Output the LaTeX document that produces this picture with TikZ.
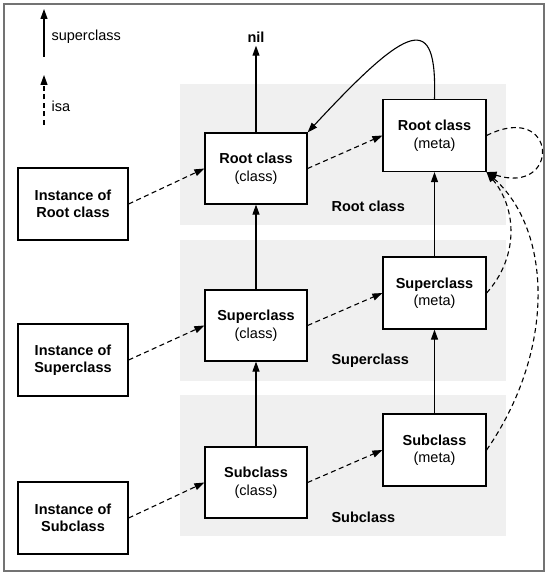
\documentclass[tikz,border=0pt]{standalone}
\usepackage{fontspec}
\setmainfont{Liberation Sans}
\usetikzlibrary{arrows.meta}
\newcommand\figfont{\fontsize{14.5}{17.5}\selectfont}

\begin{document}
\begin{tikzpicture}[x=1pt,y=-1pt,
  box/.style={draw,fill=white,line width=1.2pt,inner sep=0pt,align=center,font=\figfont},
  instbox/.style={box,font=\figfont\bfseries,minimum width=110pt,minimum height=72pt},
  classbox/.style={box,minimum width=102pt,minimum height=71pt},
  metabox/.style={box,minimum width=103pt,minimum height=72pt},
  band/.style={fill=black!6},
  bandlabel/.style={anchor=west,font=\figfont\bfseries},
  legendlabel/.style={anchor=west,font=\figfont},
  superarrow/.style={line width=1.1pt,-{Triangle[length=10pt,width=7pt]}},
  isaarrow/.style={superarrow,dash pattern=on 5pt off 3.5pt}]
 \useasboundingbox (0,0) rectangle (550,577);
 \draw[black!55,line width=1.5pt] (4,4) rectangle (544,571);
 % bands
 \fill[band] (180,84) rectangle (506,225);
 \fill[band] (180,240) rectangle (506,381);
 \fill[band] (180,395) rectangle (506,536);
 \node[bandlabel] (rootlbl) at (328,206) {Root class};
 \node[bandlabel] (superlbl) at (328,361) {Superclass};
 \node[bandlabel] (sublbl) at (328,517) {Subclass};
 % legend
 \coordinate (legsupfoot) at (44,57);
 \coordinate (legsuptip) at (44,9);
 \coordinate (legisafoot) at (44,125);
 \coordinate (legisatip) at (44,75);
 \draw[superarrow] (legsupfoot) -- (legsuptip);
 \draw[isaarrow] (legisafoot) -- (legisatip);
 \node[legendlabel] (legsup) at (48,37) {superclass};
 \node[legendlabel] (legisa) at (48,106) {isa};
 % boxes
 \node[instbox] (rootinst) at (73,204) {Instance of\\Root class};
 \node[instbox] (superinst) at (73,360) {Instance of\\Superclass};
 \node[instbox] (subinst) at (73,518) {Instance of\\Subclass};
 \node[classbox] (rootcls) at (256,168.5) {\textbf{Root class}\\(class)};
 \node[classbox] (supercls) at (256,325.5) {\textbf{Superclass}\\(class)};
 \node[classbox] (subcls) at (256,482.5) {\textbf{Subclass}\\(class)};
 \node[metabox] (rootmeta) at (434.5,135.5) {\textbf{Root class}\\(meta)};
 \node[metabox] (supermeta) at (434.5,293) {\textbf{Superclass}\\(meta)};
 \node[metabox] (submeta) at (434.5,450) {\textbf{Subclass}\\(meta)};
 \node[font=\figfont\bfseries,anchor=base,inner sep=2.5pt] (nil) at (256,43) {nil};
 % superclass links
 \draw[superarrow] (rootcls) -- (nil);
 \draw[superarrow] (subcls) -- (supercls);
 \draw[superarrow] (supercls) -- (rootcls);
 \draw[superarrow] (submeta) -- (supermeta);
 \draw[superarrow] (supermeta) -- (rootmeta);
 \draw[superarrow] (rootmeta.north) .. controls (437,12) and (410,22) .. (rootcls.north east);
 % isa links
 \draw[isaarrow] (rootinst.east) -- (rootcls.west);
 \draw[isaarrow] (superinst.east) -- (supercls.west);
 \draw[isaarrow] (subinst.east) -- (subcls.west);
 \draw[isaarrow] (rootcls.east) -- (rootmeta.west);
 \draw[isaarrow] (supercls.east) -- (supermeta.west);
 \draw[isaarrow] (subcls.east) -- (submeta.west);
 \draw[isaarrow] (rootmeta.east) .. controls (558,100) and (561,196) .. (rootmeta.south east);
 \draw[isaarrow] (supermeta.east) .. controls (518,258) and (518,210) .. (rootmeta.south east);
 \draw[isaarrow] (submeta.east) .. controls (556,350) and (552,230) .. (rootmeta.south east);
\end{tikzpicture}
\end{document}
